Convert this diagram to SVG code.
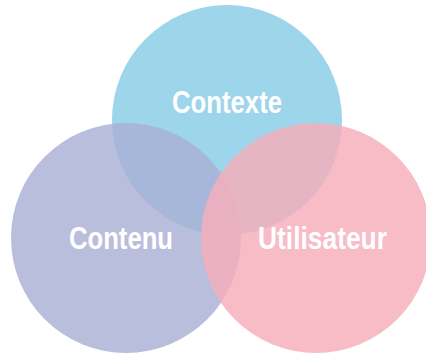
<svg xmlns="http://www.w3.org/2000/svg" width="426" height="356" viewBox="0 0 426 356">
<style>
.lbl{font-family:"Liberation Sans Narrow","Liberation Sans",Arial,sans-serif;font-weight:bold;font-size:32px;fill:#ffffff;}
</style>
<rect width="426" height="356" fill="#ffffff"/>
<g id="contexte">
<circle cx="227" cy="120" r="115" fill="#9dd5ea"/>
</g>
<g id="contenu">
<circle cx="126" cy="238" r="115" fill="#aab0d6" fill-opacity="0.82"/>
</g>
<g id="utilisateur">
<circle cx="316" cy="238" r="115" fill="#f5aeba" fill-opacity="0.83"/>
</g>
<g id="labels">
<text class="lbl" x="172" y="113" textLength="110" lengthAdjust="spacingAndGlyphs">Contexte</text>
<text class="lbl" x="69" y="249" textLength="104" lengthAdjust="spacingAndGlyphs">Contenu</text>
<text class="lbl" x="258" y="249" textLength="129" lengthAdjust="spacingAndGlyphs">Utilisateur</text>
</g>
<g id="connectors"></g>
</svg>
